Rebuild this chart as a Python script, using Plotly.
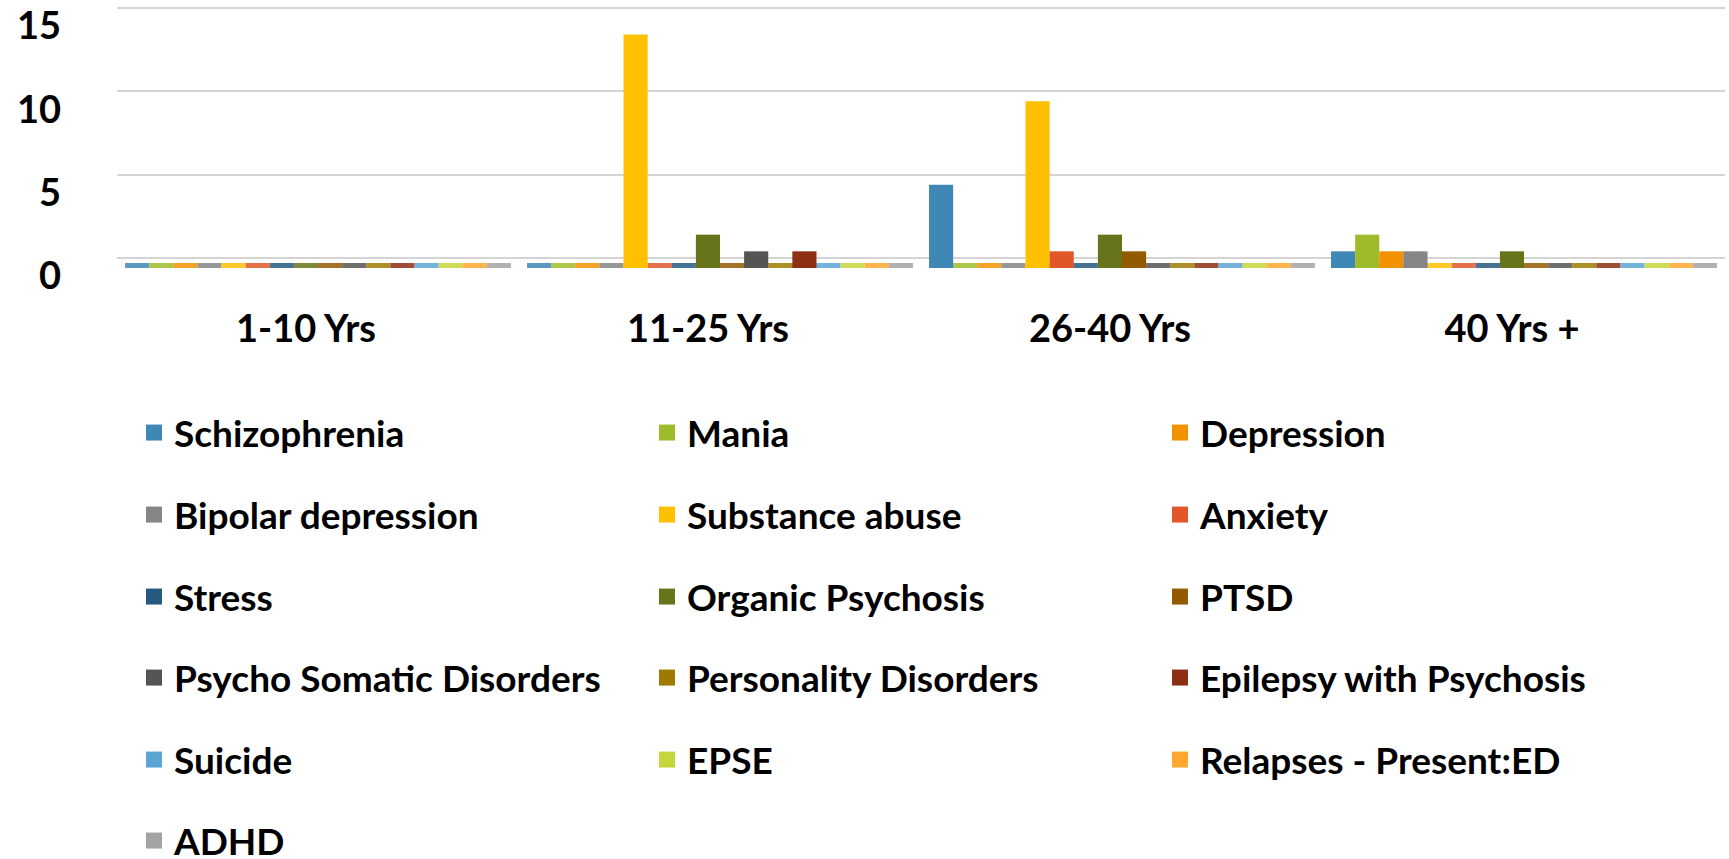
import plotly.graph_objects as go

categories = ["1-10 Yrs", "11-25 Yrs", "26-40 Yrs", "40 Yrs +"]

series_names = [
    "Schizophrenia", "Mania", "Depression",
    "Bipolar depression", "Substance abuse", "Anxiety",
    "Stress", "Organic Psychosis", "PTSD",
    "Psycho Somatic Disorders", "Personality Disorders", "Epilepsy with Psychosis",
    "Suicide", "EPSE", "Relapses - Present:ED",
    "ADHD",
]

schizophrenia = [0, 0, 5, 1]
mania = [0, 0, 0, 2]
depression = [0, 0, 0, 1]
bipolar_depression = [0, 0, 0, 1]
substance_abuse = [0, 14, 10, 0]
anxiety = [0, 0, 1, 0]
stress = [0, 0, 0, 0]
organic_psychosis = [0, 2, 2, 1]
ptsd = [0, 0, 1, 0]
psycho_somatic = [0, 1, 0, 0]
personality = [0, 0, 0, 0]
epilepsy_psychosis = [0, 1, 0, 0]
suicide = [0, 0, 0, 0]
epse = [0, 0, 0, 0]
relapses = [0, 0, 0, 0]
adhd = [0, 0, 0, 0]

series_values = [
    schizophrenia, mania, depression,
    bipolar_depression, substance_abuse, anxiety,
    stress, organic_psychosis, ptsd,
    psycho_somatic, personality, epilepsy_psychosis,
    suicide, epse, relapses,
    adhd,
]

series_colors = [
    "#3F87B4", "#9DBB2B", "#F39200",
    "#858585", "#FFC000", "#E2572A",
    "#255A7E", "#677419", "#935A00",
    "#555555", "#9E7B00", "#8C2F12",
    "#5AA5D4", "#C5D63A", "#FFA72E",
    "#A3A3A3",
]

FONT = "Lato"
W, H = 1729, 859
floor_thickness = 0.3  # visual thickness of the floor strip under each bar

fig = go.Figure()

# floor strips (top face of every bar slot), drawn first
for name, vals, col in zip(series_names, series_values, series_colors):
    fig.add_trace(go.Bar(
        x=categories, y=[floor_thickness] * len(categories), base=0,
        offsetgroup=name, marker=dict(color=col, line=dict(width=0)),
        opacity=0.85, showlegend=False, hoverinfo="skip",
    ))

# value bars
for name, vals, col in zip(series_names, series_values, series_colors):
    fig.add_trace(go.Bar(
        x=categories, y=vals, name=name, offsetgroup=name,
        marker=dict(color=col, line=dict(width=0)),
        showlegend=False, legendgroup=name,
    ))

# legend entries (3 per row, one legend per row)
legend_rows_y = [433, 515, 597, 678, 760, 841]
for i, (name, col) in enumerate(zip(series_names, series_colors)):
    row = i // 3
    lid = "legend" if row == 0 else f"legend{row + 1}"
    fig.add_trace(go.Scatter(
        x=[None], y=[None], mode="markers", name=name, legendgroup=name,
        marker=dict(symbol="square", size=23, color=col),
        legend=lid, hoverinfo="skip",
    ))

# helper trace for the back-wall grid axis
fig.add_trace(go.Scatter(x=[categories[0]], y=[None], yaxis="y2",
                         showlegend=False, hoverinfo="skip"))

plot_top, plot_bottom = 2, 275
zero_front = 268
ppu = 16.67
y_lo = -(plot_bottom - zero_front) / ppu
y_hi = (zero_front - plot_top) / ppu
back_shift = 10 / ppu

legend_defs = {}
for r, yc in enumerate(legend_rows_y):
    lid = "legend" if r == 0 else f"legend{r + 1}"
    legend_defs[lid] = dict(
        orientation="h", xref="container", yref="container",
        x=134 / W, xanchor="left", y=1 - yc / H, yanchor="middle",
        entrywidth=468, entrywidthmode="pixels",
        font=dict(family=FONT, size=37, weight="bold", color="black"),
        bgcolor="rgba(0,0,0,0)", borderwidth=0, itemsizing="trace",
    )

fig.update_layout(
    width=W, height=H,
    margin=dict(l=117, r=4, t=plot_top, b=H - plot_bottom),
    paper_bgcolor="white", plot_bgcolor="white",
    barmode="group", bargap=0.04, bargroupgap=0,
    xaxis=dict(
        type="category", showgrid=False, zeroline=False, showline=False,
        ticks="", tickfont=dict(family=FONT, size=38, weight="bold", color="black"),
        ticklabelstandoff=28, ticklabelshift=-12,
    ),
    yaxis=dict(
        range=[y_lo, y_hi], tickvals=[0, 5, 10, 15], showgrid=False,
        zeroline=False, showline=False, ticks="",
        tickfont=dict(family=FONT, size=38, weight="bold", color="black"),
        ticklabelstandoff=55, ticklabelshift=8, ticklabeloverflow="allow",
    ),
    yaxis2=dict(
        overlaying="y", range=[y_lo - back_shift, y_hi - back_shift],
        tickvals=[0, 5, 10, 15], showgrid=True, gridcolor="#D4D4D4", gridwidth=2,
        showticklabels=False, zeroline=False, showline=False, ticks="",
    ),
    showlegend=True,
    **legend_defs,
)

fig.write_html("out.html", config={"displayModeBar": False},
               post_script="document.body.style.margin='0';")
